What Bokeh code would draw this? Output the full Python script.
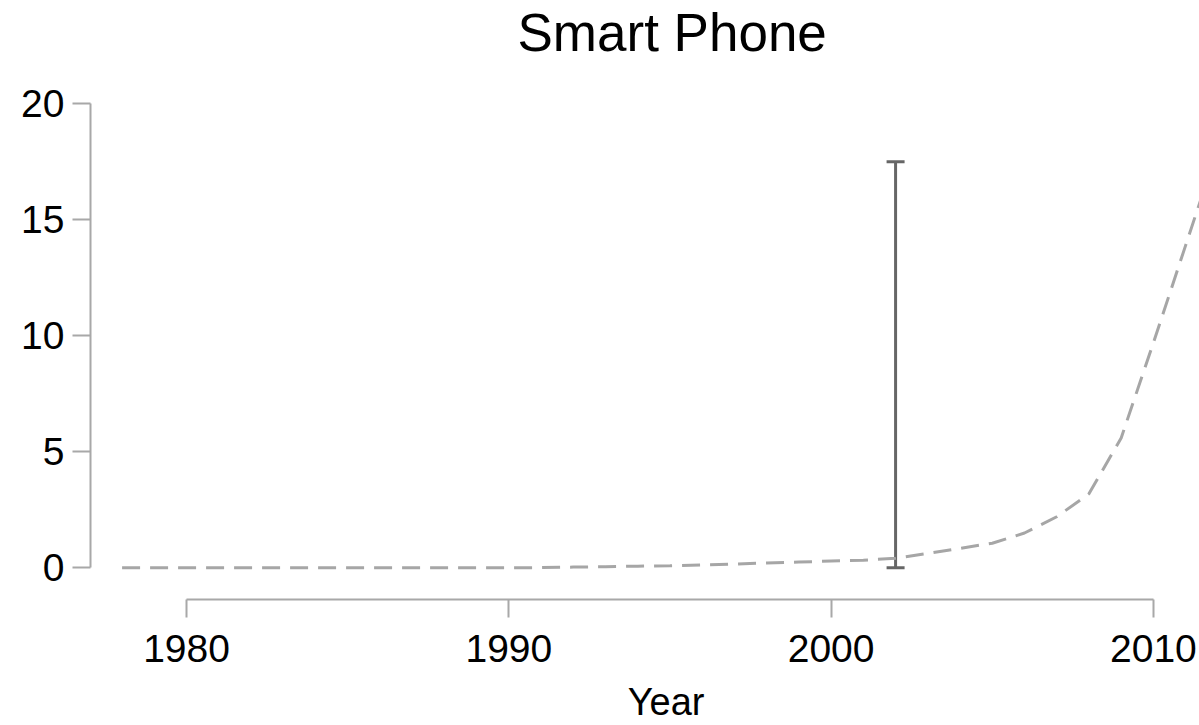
from bokeh.plotting import figure
from bokeh.models import Range1d, Whisker, TeeHead, ColumnDataSource, FixedTicker
from bokeh.embed import file_html
from bokeh.resources import INLINE

# ---- data ----
years = list(range(1978, 2013))
values = [0.0, 0.0, 0.0, 0.0, 0.0, 0.0, 0.0, 0.0, 0.0, 0.0, 0.0, 0.0,   # 1978-1989
          0.0, 0.01, 0.03, 0.05, 0.07, 0.09, 0.12, 0.16, 0.21, 0.25,     # 1990-1999
          0.29, 0.33, 0.41, 0.62, 0.84, 1.06, 1.5, 2.2, 3.19, 5.6,       # 2000-2009
          9.7, 13.9, 18.1]                                               # 2010-2012
err_year = [2002]
err_low = [0.0]
err_high = [17.5]
x_ticks = [1980, 1990, 2000, 2010]
y_ticks = [0, 5, 10, 15, 20]
title_text = "Smart Phone"
x_label = "Year"

FONT = "Liberation Sans"
AXIS_GREY = "#a8a8a8"
NBSP = "\u00a0"

p = figure(width=1199, height=725, output_backend="svg", toolbar_location=None,
           x_range=Range1d(1977.02, 2011.43), y_range=Range1d(-1.366, 21.74),
           min_border_left=90, min_border_right=0, min_border_top=63, min_border_bottom=126)

p.xgrid.visible = False
p.ygrid.visible = False
p.outline_line_color = None
p.background_fill_color = "white"
p.border_fill_color = "white"

src = ColumnDataSource(dict(x=years, y=values))
p.line("x", "y", source=src, line_color="#a6a6a6", line_width=3, line_dash="18 10")

esrc = ColumnDataSource(dict(base=err_year, lower=err_low, upper=err_high))
w = Whisker(source=esrc, base="base", lower="lower", upper="upper", dimension="height",
            line_color="#666666", line_width=3,
            lower_head=TeeHead(size=18, line_color="#666666", line_width=3),
            upper_head=TeeHead(size=18, line_color="#666666", line_width=3))
p.add_layout(w)

for ax, ticks, bounds in ((p.xaxis[0], x_ticks, (x_ticks[0], x_ticks[-1])),
                          (p.yaxis[0], y_ticks, (y_ticks[0], y_ticks[-1]))):
    ax.ticker = FixedTicker(ticks=ticks)
    ax.bounds = bounds
    ax.axis_line_color = AXIS_GREY
    ax.axis_line_width = 2
    ax.major_tick_line_color = AXIS_GREY
    ax.major_tick_line_width = 2
    ax.major_tick_out = 18
    ax.major_tick_in = 0
    ax.minor_tick_line_color = None
    ax.major_label_text_font = FONT
    ax.major_label_text_font_size = "39px"
    ax.major_label_text_color = "black"

p.xaxis.major_label_standoff = 17
p.yaxis.major_label_standoff = 8

# leading no-break spaces nudge the centred label right, as in the reference
p.xaxis.axis_label = NBSP * 4 + x_label
p.xaxis.axis_label_text_font = FONT
p.xaxis.axis_label_text_font_size = "38px"
p.xaxis.axis_label_text_font_style = "normal"
p.xaxis.axis_label_text_color = "black"
p.xaxis.axis_label_standoff = 16

p.title.text = title_text
p.title.text_font = FONT
p.title.text_font_size = "53px"
p.title.text_font_style = "normal"
p.title.text_color = "black"
p.title.align = "left"
p.title.vertical_align = "top"
p.title.offset = 427
p.title.standoff = 0

open("out.html", "w").write(file_html(p, INLINE))
